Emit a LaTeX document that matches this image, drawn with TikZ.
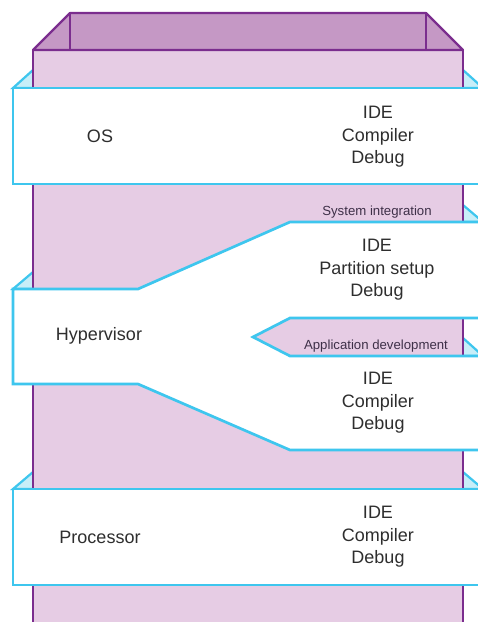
\documentclass[tikz,border=0pt]{standalone}
\usepackage{fontspec}
\setmainfont{Liberation Sans}
\definecolor{boxfront}{HTML}{E6CCE4}
\definecolor{boxtop}{HTML}{C598C5}
\definecolor{boxline}{HTML}{7B2D8E}
\definecolor{bandline}{HTML}{3EC6EE}
\definecolor{bandtop}{HTML}{C8EEF8}
\definecolor{labeltext}{HTML}{2E2E2E}
\definecolor{tagtext}{HTML}{3E3048}
\tikzset{
  box/.style={fill=boxfront, draw=boxline, line width=2.2pt, line join=miter},
  boxlid/.style={fill=boxtop, draw=boxline, line width=2.2pt, line join=round},
  band/.style={fill=white, draw=bandline, line width=2.7pt, line join=miter},
  bandface/.style={fill=bandtop, draw=bandline, line width=2.2pt, line join=miter},
  layer/.style={text=labeltext, font=\fontsize{18}{22.5}\selectfont, align=center, inner sep=0pt},
  tools/.style={text=labeltext, font=\fontsize{18}{22.5}\selectfont, align=center, inner sep=0pt},
  tag/.style={text=tagtext, font=\fontsize{13.2}{15}\selectfont, inner sep=0pt}
}
\begin{document}
\begin{tikzpicture}[x=1pt, y=-1pt]
\useasboundingbox (0,0) rectangle (478,622);
\clip (0,0) rectangle (478,622);
\fill[white] (0,0) rectangle (478,622);

% top faces of the slabs (their far edges sit behind the box)
\path[bandface] (13,88) -- (33,70) -- (463,70) -- (483,88) -- cycle;
\path[bandface] (13,289) -- (33,272) -- (60,272) -- (60,289) -- cycle;
\path[bandface] (290,222) -- (310,205) -- (463,205) -- (483,222) -- cycle;
\path[bandface] (290,356) -- (310,338) -- (463,338) -- (483,356) -- cycle;
\path[bandface] (13,489) -- (33,472) -- (463,472) -- (483,489) -- cycle;

% the open box
\path[box] (33,50) rectangle (463,640);
\path[boxlid] (33,50) -- (70,13) -- (426,13) -- (463,50) -- cycle;
\draw[boxline, line width=2.2pt] (70,13) -- (70,50) (426,13) -- (426,50);

% slabs
\path[band] (13,88) rectangle (483,184);
\path[band] (13,289) -- (138,289) -- (290,222) -- (483,222) -- (483,318)
  -- (290,318) -- (253,337) -- (290,356) -- (483,356) -- (483,450)
  -- (290,450) -- (138,384) -- (13,384) -- cycle;
\path[band] (13,489) rectangle (483,585);

% labels
\node[layer] (os) at (100,136) {OS};
\node[tools] (ostools) at (378,137) {IDE\\Compiler\\Debug};
\node[tag] (sysint) at (377,212) {System integration};
\node[tools] (hvtools) at (377,270) {IDE\\Partition setup\\Debug};
\node[layer] (hv) at (99,336) {Hypervisor};
\node[tag] (appdev) at (376,346) {Application development};
\node[tools] (apptools) at (378,403) {IDE\\Compiler\\Debug};
\node[layer] (cpu) at (100,537) {Processor};
\node[tools] (cputools) at (378,537) {IDE\\Compiler\\Debug};
\end{tikzpicture}
\end{document}
